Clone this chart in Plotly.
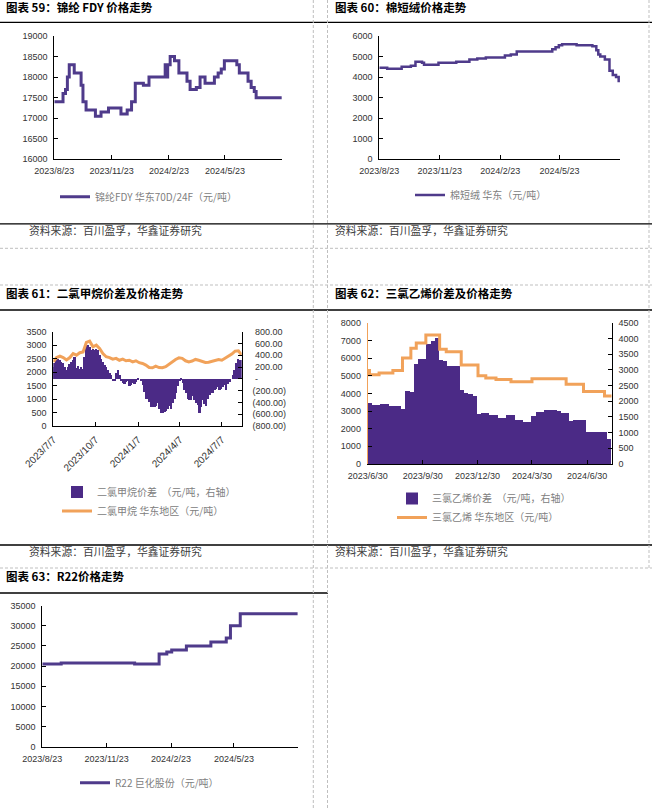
import plotly.graph_objects as go
import pandas as pd

W, H = 652, 808

# ---------------- 图表59 锦纶FDY 华东70D/24F ----------------
fdy_dates = ["2023-08-23", "2023-09-06", "2023-09-10", "2023-09-13", "2023-09-16", "2023-09-24",
             "2023-10-05", "2023-10-08", "2023-10-13", "2023-10-28", "2023-11-06", "2023-11-18",
             "2023-12-08", "2023-12-18", "2023-12-25", "2023-12-31", "2024-01-13", "2024-01-22",
             "2024-02-17", "2024-02-20", "2024-02-21", "2024-02-25", "2024-03-03", "2024-03-10",
             "2024-03-23", "2024-03-28", "2024-04-07", "2024-04-13", "2024-04-21", "2024-05-06",
             "2024-05-12", "2024-05-17", "2024-05-22", "2024-06-11", "2024-06-15", "2024-06-29",
             "2024-07-04", "2024-07-09", "2024-07-12", "2024-08-22"]
fdy_price = [17400, 17600, 17700, 18000, 18300, 18100, 17800, 17400, 17200, 17050, 17150, 17250,
             17100, 17200, 17400, 17850, 17800, 18000, 18300, 18000, 18300, 18500, 18400, 18100,
             17900, 17700, 17750, 18000, 17850, 18000, 18100, 18200, 18400, 18300, 18100, 17900,
             17750, 17650, 17500, 17500]

# ---------------- 图表60 棉短绒 华东 ----------------
linter_dates = ["2023-08-23", "2023-09-04", "2023-09-26", "2023-10-10", "2023-10-17", "2023-10-27",
                "2023-10-30", "2023-11-21", "2023-12-18", "2024-01-07", "2024-01-19", "2024-02-01",
                "2024-03-01", "2024-03-10", "2024-03-19", "2024-05-12", "2024-05-17", "2024-05-22",
                "2024-05-27", "2024-06-18", "2024-07-12", "2024-07-18", "2024-07-21", "2024-07-24",
                "2024-07-31", "2024-08-07", "2024-08-12", "2024-08-17", "2024-08-21"]
linter_price = [4450, 4400, 4500, 4550, 4750, 4700, 4600, 4700, 4750, 4850, 4900, 4950,
                5050, 5100, 5250, 5350, 5450, 5550, 5600, 5550, 5500, 5300, 5100, 5000,
                4850, 4300, 4100, 4000, 3750]

# ---------------- 图表61 二氯甲烷 ----------------
dcm_start, dcm_end = "2023-07-07", "2024-08-19"
dcm_spread = [200, 280, 340, 350, 320, 290, 270, 200, 160, 210, 250, 290, 330, 380, 190, 220,
              180, 200, 180, 380, 600, 580, 550, 490, 520, 490, 520, 490, 410, 350, 290, 240,
              200, 150, 110, 70, -30, -30, 100, 150, 70, -20, -70, -90, -50, -20, -120, -100,
              -70, -90, -50, 20, 0, -20, -100, -220, -330, -330, -380, -470, -480, -470, -460, -410,
              -500, -570, -580, -550, -540, -500, -460, -500, -410, -330, -230, -120, -20, 10, -70, -190,
              -240, -330, -360, -350, -290, -360, -410, -440, -570, -470, -360, -420, -460, -330, -270, -240,
              -230, -190, -160, -140, -180, -160, -130, -100, -190, -90, -50, 0, 70, 150, 270, 350,
              330, 320]
dcm_price = [2380, 2540, 2590, 2540, 2450, 2540, 2690, 2630, 2720, 2750, 3100, 3150, 2940, 3000, 2880,
             2690, 2570, 2540, 2480, 2510, 2440, 2480, 2420, 2440, 2380, 2420, 2350, 2320, 2260, 2170,
             2160, 2220, 2170, 2160, 2200, 2300, 2380, 2470, 2530, 2510, 2420, 2380, 2410, 2470, 2440,
             2410, 2360, 2370, 2410, 2440, 2470, 2440, 2510, 2590, 2670, 2780, 2790, 2630]
dcm_right_ticks = [-800, -600, -400, -200, 0, 200, 400, 600, 800]
dcm_right_text = ["(800.00)", "(600.00)", "(400.00)", "(200.00)", " -", " 200.00", " 400.00", " 600.00", " 800.00"]

# ---------------- 图表62 三氯乙烯 ----------------
tce_spread_start = "2023-07-03"
tce_spread = [1950, 1880, 1880, 1910, 1910, 1870, 1870, 1845, 1770, 2350, 2300, 3200, 3350, 3350,
              3840, 3940, 4030, 3310, 3275, 3120, 3120, 3120, 2370, 2270, 2230, 2160, 1610, 1630,
              1630, 1560, 1560, 1470, 1470, 1560, 1560, 1400, 1400, 1340, 1340, 1530, 1660, 1660,
              1740, 1740, 1740, 1700, 1620, 1620, 1380, 1400, 1420, 1420, 1020, 1020, 1020, 1020,
              1020, 820]
tce_price_dates = ["2023-06-30", "2023-07-03", "2023-07-19", "2023-08-11", "2023-08-27", "2023-09-10",
                   "2023-09-19", "2023-10-05", "2023-10-28", "2023-11-08", "2023-12-03", "2023-12-31",
                   "2024-01-13", "2024-01-30", "2024-02-24", "2024-03-30", "2024-05-26", "2024-06-24",
                   "2024-07-29", "2024-08-10"]
tce_price = [5300, 5050, 5150, 5300, 6000, 6550, 6850, 7300, 6500, 6350, 5600, 5000,
             4870, 4790, 4660, 4830, 4510, 4100, 3850, 3850]

# ---------------- 图表63 R22 巨化股份 ----------------
r22_dates = ["2023-08-23", "2023-09-19", "2024-01-02", "2024-02-06", "2024-02-17", "2024-02-24",
             "2024-03-16", "2024-04-20", "2024-05-12", "2024-05-18", "2024-06-01", "2024-08-22"]
r22_price = [20500, 20800, 20500, 23000, 23500, 24000, 25000, 26000, 27000, 30000, 33000, 33000]

# ---------------- tick labels ----------------
ticks_823 = ["2023-08-23", "2023-11-23", "2024-02-23", "2024-05-23", "2024-08-23"]
ticks_823_text = ["2023/8/23", "2023/11/23", "2024/2/23", "2024/5/23", ""]
ticks_77 = ["2023-07-07", "2023-10-07", "2024-01-07", "2024-04-07", "2024-07-07"]
ticks_77_text = ["2023/7/7", "2023/10/7", "2024/1/7", "2024/4/7", "2024/7/7"]
ticks_630 = ["2023-06-30", "2023-09-30", "2023-12-30", "2024-03-30", "2024-06-30"]
ticks_630_text = ["2023/6/30", "2023/9/30", "2023/12/30", "2024/3/30", "2024/6/30"]

PURPLE_LINE = "#4F3B8B"
PURPLE_BAR = "#4B2A86"
ORANGE = "#F1A25A"
CJK = "Noto Sans CJK SC"
NUM = "Liberation Sans, Arial, sans-serif"


def px(x):
    return x / W


def py(y):
    return 1 - y / H


dcm_spread_x = pd.date_range(dcm_start, dcm_end, periods=len(dcm_spread))
dcm_price_x = pd.date_range(dcm_start, dcm_end, periods=len(dcm_price))
tce_spread_x = pd.date_range(tce_spread_start, periods=len(tce_spread), freq="7D")

fig = go.Figure()

fig.add_trace(go.Scatter(x=fdy_dates, y=fdy_price, mode="lines", name="锦纶FDY 华东70D/24F（元/吨）",
                         line=dict(color=PURPLE_LINE, width=3, shape="hv"), xaxis="x", yaxis="y",
                         legend="legend", showlegend=True))
fig.add_trace(go.Scatter(x=linter_dates, y=linter_price, mode="lines", name="棉短绒 华东（元/吨）",
                         line=dict(color=PURPLE_LINE, width=2.5, shape="hv"), xaxis="x2", yaxis="y2",
                         legend="legend2", showlegend=True))
fig.add_trace(go.Bar(x=dcm_spread_x, y=dcm_spread, name="二氯甲烷价差  （元/吨，右轴）",
                     marker=dict(color=PURPLE_BAR, line=dict(width=0)), xaxis="x3", yaxis="y3",
                     legend="legend3", showlegend=True))
fig.add_trace(go.Scatter(x=dcm_price_x, y=dcm_price, mode="lines", name="二氯甲烷 华东地区（元/吨）",
                         line=dict(color=ORANGE, width=3), xaxis="x3", yaxis="y4", legend="legend3",
                         showlegend=True))
fig.add_trace(go.Bar(x=tce_spread_x, y=tce_spread, name="三氯乙烯价差  （元/吨，右轴）",
                     marker=dict(color=PURPLE_BAR, line=dict(width=0)), xaxis="x4", yaxis="y5",
                     legend="legend4", showlegend=True))
fig.add_trace(go.Scatter(x=tce_price_dates, y=tce_price, mode="lines", name="三氯乙烯 华东地区（元/吨）",
                         line=dict(color=ORANGE, width=3, shape="hv"), xaxis="x4", yaxis="y6",
                         legend="legend4", showlegend=True))
fig.add_trace(go.Scatter(x=r22_dates, y=r22_price, mode="lines", name="R22 巨化股份（元/吨）",
                         line=dict(color=PURPLE_LINE, width=3, shape="hv"), xaxis="x5", yaxis="y7",
                         legend="legend5", showlegend=True))

AX = dict(showline=True, linecolor="#000000", linewidth=1, ticks="inside", ticklen=4,
          tickcolor="#000000", showgrid=False, zeroline=False, automargin=False,
          tickfont=dict(family=NUM, size=9, color="#333333"))


def xdate(x0, x1, rng, tv, tt, anchor, angle=0, fsize=9):
    d = dict(AX)
    d.update(domain=[px(x0), px(x1)], type="date", range=rng, tickvals=tv, ticktext=tt,
             anchor=anchor, tickangle=angle, ticklabelstandoff=3,
             tickfont=dict(family=NUM, size=fsize, color="#333333"))
    return d


def yax(y_top, y_bot, rng, anchor, side="left", dtick=None, tv=None, tt=None, overlaying=None,
        standoff=4, linecolor="#000000"):
    d = dict(AX)
    d.update(range=rng, anchor=anchor, side=side, ticklabelstandoff=standoff, linecolor=linecolor,
             tickformat="d", exponentformat="none")
    if overlaying:
        d.update(overlaying=overlaying)
    else:
        d.update(domain=[py(y_bot), py(y_top)])
    if dtick is not None:
        d.update(dtick=dtick, tick0=0)
    if tv is not None:
        d.update(tickmode="array", tickvals=tv, ticktext=tt)
    return d


LEG = dict(xanchor="left", yanchor="middle", bgcolor="rgba(0,0,0,0)", borderwidth=0,
           font=dict(family=CJK, size=10, color="#808080"), itemwidth=30, traceorder="normal",
           tracegroupgap=0, visible=True)


def leg(x, y):
    d = dict(LEG)
    d.update(x=px(x), y=py(y))
    return d


solid_lines = [(0, 652, 22.3), (0, 652, 223.8), (0, 652, 310), (0, 652, 545), (0, 328, 593)]
dashed_h = [(0, 652, 248.3), (0, 652, 285), (0, 652, 568)]
dashed_v = [(313.3, 0, 808), (327.5, 0, 808), (649, 0, 568)]
shapes = []
for x0, x1, y in solid_lines:
    shapes.append(dict(type="line", xref="paper", yref="paper", x0=px(x0), x1=px(x1), y0=py(y), y1=py(y),
                       line=dict(color="#000000", width=1.3)))
for x0, x1, y in dashed_h:
    shapes.append(dict(type="line", xref="paper", yref="paper", x0=px(x0), x1=px(x1), y0=py(y), y1=py(y),
                       line=dict(color="#BFBFBF", width=1, dash="3px,2px")))
for x, y0, y1 in dashed_v:
    shapes.append(dict(type="line", xref="paper", yref="paper", x0=px(x), x1=px(x), y0=py(y0), y1=py(y1),
                       line=dict(color="#BFBFBF", width=1, dash="3px,2px")))

titles = [("图表 59：锦纶 FDY 价格走势", 4, 7), ("图表 60：棉短绒价格走势", 333, 7),
          ("图表 61：二氯甲烷价差及价格走势", 4, 293), ("图表 62：三氯乙烯价差及价格走势", 333, 293.5),
          ("图表 63：R22价格走势", 4, 576)]
sources = [(27, 230.5), (333, 230.5), (27, 550.5), (333, 550.5)]
SOURCE_TEXT = "资料来源：百川盈孚，华鑫证券研究"

annotations = []
for t, x, y in titles:
    annotations.append(dict(text="<b>" + t + "</b>", x=px(x), y=py(y), xref="paper", yref="paper",
                            xanchor="left", yanchor="middle", showarrow=False,
                            font=dict(family=CJK, size=11.5, color="#000000")))
for x, y in sources:
    annotations.append(dict(text=SOURCE_TEXT, x=px(x), y=py(y), xref="paper", yref="paper",
                            xanchor="left", yanchor="middle", showarrow=False,
                            font=dict(family=CJK, size=10.8, color="#404040")))

fig.update_layout(
    width=W, height=H, margin=dict(l=0, r=0, t=0, b=0, pad=0),
    paper_bgcolor="white", plot_bgcolor="white",
    showlegend=True,
    barmode="overlay", bargap=0,
    xaxis=xdate(54.3, 282.3, ["2023-08-23", "2024-08-23"], ticks_823, ticks_823_text, "y"),
    yaxis=yax(36, 159.3, [16000, 19000], "x", dtick=500),
    xaxis2=xdate(379.3, 620, ["2023-08-23", "2024-08-23"], ticks_823, ticks_823_text, "y2"),
    yaxis2=yax(36, 159, [0, 6000], "x2", dtick=1000),
    xaxis3=xdate(53.3, 241.7, [dcm_start, dcm_end], ticks_77, ticks_77_text, "y3", angle=-45, fsize=10),
    yaxis3=yax(331.7, 426, [-800, 800], "x3", side="right", tv=dcm_right_ticks, tt=dcm_right_text,
               standoff=8),
    yaxis4=yax(331.7, 426, [0, 3500], "x3", dtick=500, overlaying="y3"),
    xaxis4=xdate(367.7, 611.7, ["2023-06-30", "2024-08-10"], ticks_630, ticks_630_text, "y5"),
    yaxis5=yax(322.7, 464, [0, 4500], "x4", side="right", dtick=500, standoff=4),
    yaxis6=yax(322.7, 464, [0, 8000], "x4", dtick=1000, overlaying="y5", linecolor=ORANGE),
    xaxis5=xdate(42.3, 298.3, ["2023-08-23", "2024-08-23"], ticks_823, ticks_823_text, "y7"),
    yaxis7=yax(605.7, 746.7, [0, 35000], "x5", dtick=5000),
    legend=leg(55, 196.7),
    legend2=leg(410, 195),
    legend3=leg(57, 501.5),
    legend4=leg(392, 508),
    legend5=leg(75, 782.7),
    shapes=shapes,
    annotations=annotations,
)

fig.write_html("out.html", config={"displayModeBar": False},
               post_script="document.body.style.margin='0px';document.body.style.padding='0px';"
                           "document.body.style.overflow='hidden';")
